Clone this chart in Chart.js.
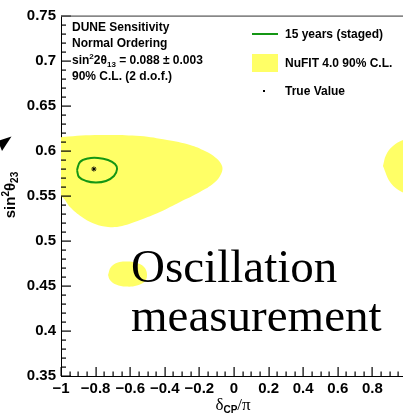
<!DOCTYPE html>
<html><head><meta charset="utf-8">
<script src="https://cdn.jsdelivr.net/npm/chart.js@4/dist/chart.umd.min.js"></script>
<style>
html,body{margin:0;padding:0;background:#fff;overflow:hidden;width:403px;height:414px}
#wrap{width:403px;height:414px;overflow:hidden;position:relative}
canvas{display:block}
</style></head>
<body><div id="wrap"><canvas id="c" width="420" height="414"></canvas></div>
<script>
// ---- data (delta_CP / pi , sin^2 theta_23) ----
const xMajorTicks = [-1, -0.8, -0.6, -0.4, -0.2, 0, 0.2, 0.4, 0.6, 0.8, 1];
const xTickLabels = ['\u22121', '\u22120.8', '\u22120.6', '\u22120.4', '\u22120.2', '0', '0.2', '0.4', '0.6', '0.8', '1'];
const yMajorTicks = [0.35, 0.4, 0.45, 0.5, 0.55, 0.6, 0.65, 0.7, 0.75];
const yTickLabels = ['0.35', '0.4', '0.45', '0.5', '0.55', '0.6', '0.65', '0.7', '0.75'];

// NuFIT 4.0 90% C.L. main region
const nufitMainDelta = [-1.092, -0.988, -0.775, -0.543, -0.387, -0.254, -0.168, -0.104, -0.069, -0.075, -0.116, -0.197, -0.312, -0.428, -0.543, -0.647, -0.728, -0.803, -0.879, -0.948, -0.994, -1.092, -1.092];
const nufitMainS23   = [0.6122, 0.6156, 0.6178, 0.6167, 0.6122, 0.6067, 0.6000, 0.5922, 0.5833, 0.5744, 0.5644, 0.5544, 0.5433, 0.5322, 0.5233, 0.5167, 0.5156, 0.5189, 0.5267, 0.5378, 0.5489, 0.5567, 0.6122];
// NuFIT small island (lower octant)
const nufitIslandDelta = [-0.728, -0.711, -0.671, -0.618, -0.561, -0.520, -0.503, -0.514, -0.561, -0.624, -0.682, -0.717, -0.728];
const nufitIslandS23   = [0.4622, 0.4711, 0.4761, 0.4772, 0.4756, 0.4711, 0.4633, 0.4556, 0.4506, 0.4494, 0.4517, 0.4567, 0.4622];
// NuFIT region wrapping at delta = +1
const nufitWrapDelta = [0.861, 0.879, 0.919, 0.977, 1.029, 1.133, 1.133, 1.029, 0.960, 0.902, 0.861];
const nufitWrapS23   = [0.5833, 0.5956, 0.6056, 0.6122, 0.6156, 0.6156, 0.5500, 0.5511, 0.5556, 0.5656, 0.5833];
// DUNE 15 years (staged) 90% C.L. contour
const duneDelta = [-0.9075, -0.890, -0.844, -0.786, -0.728, -0.688, -0.676, -0.694, -0.740, -0.798, -0.855, -0.896, -0.9075];
const duneS23   = [0.5789, 0.5878, 0.5917, 0.5922, 0.5900, 0.5856, 0.5800, 0.5722, 0.5667, 0.5650, 0.5667, 0.5711, 0.5789];
// True value
const trueDelta = [-0.81];
const trueS23 = [0.58];

const toPts = (xs, ys) => xs.map((v, i) => ({x: v, y: ys[i]}));

const SANS = '"Liberation Sans", Arial, Helvetica, sans-serif';
const SERIF = '"Liberation Serif", "Times New Roman", serif';
const YELLOW = 'rgb(255,255,102)';
const GREEN = 'rgb(20,150,20)';

function drawRich(ctx, x, y, parts, align) {
  let w = 0;
  parts.forEach(p => { ctx.font = p.f; p.w = ctx.measureText(p.t).width; w += p.w; });
  let cx = align === 'center' ? x - w / 2 : x;
  parts.forEach(p => { ctx.font = p.f; ctx.fillText(p.t, cx, y + (p.dy || 0)); cx += p.w; });
}

const rootStyle = {
  id: 'rootStyle',
  afterDraw(chart) {
    const ctx = chart.ctx;
    const xs = chart.scales.x, ys = chart.scales.y;
    const left = Math.round(ys.right), bottom = Math.round(xs.top), top = Math.round(ys.top), right = Math.round(xs.right);
    ctx.save();
    // inward ticks (fillRect for crisp 1px marks)
    ctx.fillStyle = '#000';
    for (let v = 35; v <= 75; v++) {
      const py = Math.round(ys.getPixelForValue(v / 100));
      const len = (v % 5 === 0) ? 10 : 5;
      ctx.fillRect(left, py - 0.5, len, 1.2);
    }
    for (let k = -20; k <= 20; k++) {
      const px = Math.round(xs.getPixelForValue(k / 20));
      const len = (Math.abs(k) % 4 === 0) ? 9 : 4.5;
      ctx.fillRect(px - 0.5, bottom - len, 1.2, len);
    }
    // top frame
    ctx.fillStyle = '#555';
    ctx.fillRect(left, top - 0.5, right - left, 1.2);

    ctx.fillStyle = '#000';
    ctx.textBaseline = 'alphabetic';
    ctx.textAlign = 'left';
    const B12 = 'bold 12px ' + SANS, B8 = 'bold 8px ' + SANS;
    // info box
    drawRich(ctx, 72, 31, [{t: 'DUNE Sensitivity', f: B12}]);
    drawRich(ctx, 72, 47, [{t: 'Normal Ordering', f: B12}]);
    drawRich(ctx, 72, 64, [{t: 'sin', f: B12}, {t: '2', f: B8, dy: -5}, {t: '2\u03b8', f: B12}, {t: '13', f: B8, dy: 3}, {t: ' = 0.088 \u00b1 0.003', f: B12}]);
    drawRich(ctx, 72, 80, [{t: '90% C.L. (2 d.o.f.)', f: B12}]);
    // legend
    ctx.strokeStyle = GREEN; ctx.lineWidth = 2;
    ctx.beginPath(); ctx.moveTo(252, 34); ctx.lineTo(278, 34); ctx.stroke();
    ctx.fillStyle = YELLOW; ctx.fillRect(252, 54, 26, 18);
    ctx.fillStyle = '#000';
    ctx.fillRect(263, 90, 2, 2);
    drawRich(ctx, 285, 38, [{t: '15 years (staged)', f: B12}]);
    drawRich(ctx, 285, 67, [{t: 'NuFIT 4.0 90% C.L.', f: B12}]);
    drawRich(ctx, 285, 95, [{t: 'True Value', f: B12}]);
    // axis titles
    drawRich(ctx, 233, 410, [{t: '\u03b4', f: '17px ' + SERIF}, {t: 'CP', f: 'bold 10px ' + SANS, dy: 3}, {t: '/\u03c0', f: '17px ' + SERIF}], 'center');
    ctx.save();
    ctx.translate(15, 195);
    ctx.rotate(-Math.PI / 2);
    drawRich(ctx, 0, 0, [{t: 'sin', f: 'bold 15px ' + SANS}, {t: '2', f: 'bold 10px ' + SANS, dy: -6}, {t: '\u03b8', f: 'bold 15px ' + SANS}, {t: '23', f: 'bold 10px ' + SANS, dy: 3}], 'center');
    ctx.restore();
    // arrow head at left edge
    ctx.beginPath();
    ctx.moveTo(11.5, 136.5); ctx.lineTo(-2, 140.8); ctx.lineTo(2, 151); ctx.closePath();
    ctx.fill();
    // overlay caption
    ctx.font = '47px ' + SERIF;
    ctx.fillText('Oscillation', 131, 282);
    ctx.fillText('measurement', 131, 331);
    ctx.restore();
  }
};

new Chart(document.getElementById('c'), {
  type: 'scatter',
  data: {
    datasets: [
      {label: 'True Value', data: toPts(trueDelta, trueS23), showLine: false, pointStyle: 'star', pointRadius: 2.5, borderColor: '#000', backgroundColor: '#000', borderWidth: 1},
      {label: '15 years (staged)', data: toPts(duneDelta, duneS23), showLine: true, fill: false, borderColor: GREEN, borderWidth: 2, pointRadius: 0, tension: 0.4},
      {label: 'NuFIT 4.0 90% C.L.', data: toPts(nufitMainDelta, nufitMainS23), showLine: true, fill: 'shape', backgroundColor: YELLOW, borderColor: YELLOW, borderWidth: 0, pointRadius: 0, tension: 0.4},
      {label: 'NuFIT island', data: toPts(nufitIslandDelta, nufitIslandS23), showLine: true, fill: 'shape', backgroundColor: YELLOW, borderColor: YELLOW, borderWidth: 0, pointRadius: 0, tension: 0.4},
      {label: 'NuFIT wrap', data: toPts(nufitWrapDelta, nufitWrapS23), showLine: true, fill: 'shape', backgroundColor: YELLOW, borderColor: YELLOW, borderWidth: 0, pointRadius: 0, tension: 0.4}
    ]
  },
  options: {
    responsive: false,
    devicePixelRatio: 1,
    animation: false,
    events: [],
    layout: {padding: {top: 16, right: 13, bottom: 0, left: 0}},
    plugins: {legend: {display: false}, tooltip: {enabled: false}},
    scales: {
      x: {
        type: 'linear', min: -1, max: 1,
        afterBuildTicks: s => { s.ticks = xMajorTicks.map(v => ({value: v})); },
        afterFit: s => { s.height = 38; },
        grid: {display: false, drawTicks: false},
        border: {display: true, color: '#000', width: 1},
        ticks: {autoSkip: false, maxRotation: 0, padding: 4, color: '#000', font: {family: SANS, size: 15, weight: 'bold'}, callback: (v, i) => xTickLabels[i]}
      },
      y: {
        type: 'linear', min: 0.35, max: 0.75,
        afterBuildTicks: s => { s.ticks = yMajorTicks.map(v => ({value: v})); },
        afterFit: s => { s.width = 61; },
        grid: {display: false, drawTicks: false},
        border: {display: true, color: '#000', width: 1},
        ticks: {autoSkip: false, padding: 5, color: '#000', font: {family: SANS, size: 15, weight: 'bold'}, callback: (v, i) => yTickLabels[i]}
      }
    }
  },
  plugins: [rootStyle]
});
</script>
</body></html>
